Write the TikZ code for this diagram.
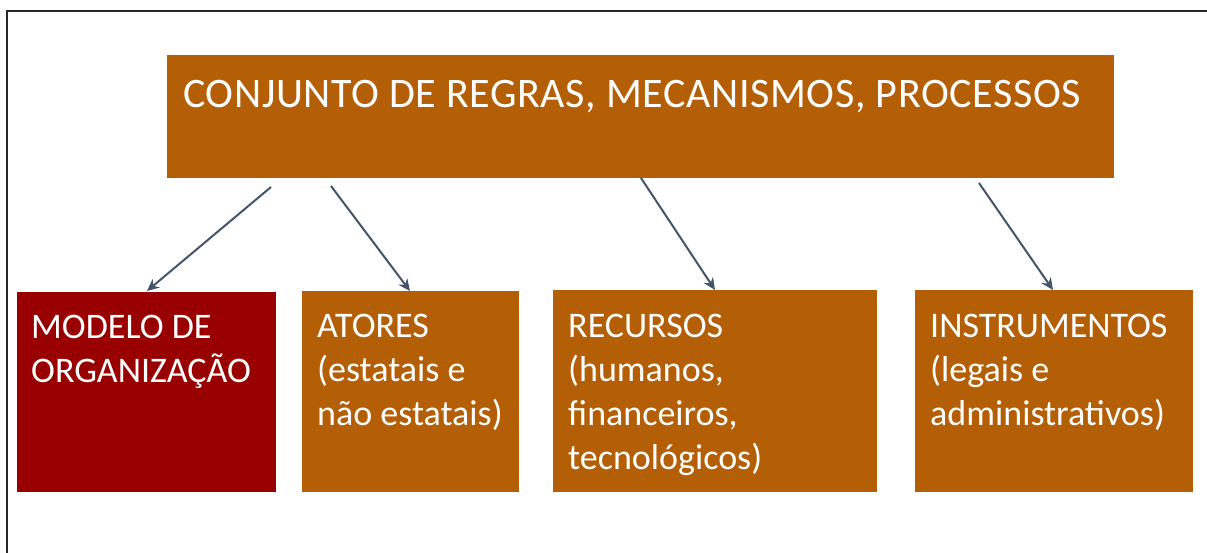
\documentclass[tikz,border=0pt]{standalone}
\usepackage{fontspec}
\setmainfont{Carlito}
\usetikzlibrary{arrows.meta}
\definecolor{boxorange}{HTML}{B45F06}
\definecolor{boxred}{HTML}{990000}
\definecolor{arrowgray}{HTML}{44546A}
\tikzset{
  box/.style={rectangle, inner sep=0pt, anchor=north west, draw=none},
  lbl/.style={inner sep=0pt, anchor=north west, text=white, align=left, font=\fontsize{36}{44}\selectfont},
  toplbl/.style={inner sep=0pt, anchor=north west, text=white, font=\fontsize{42}{50}\selectfont\addfontfeature{LetterSpace=1.5}},
  conn/.style={draw=arrowgray, line width=2pt, -{Stealth[length=12pt,width=11pt]}},
}
\begin{document}
\begin{tikzpicture}[x=1pt,y=-1pt]
\useasboundingbox (0,0) rectangle (1207,553);
% frame (left and top edges of the cropped screenshot)
\coordinate (fb) at (7,553);
\coordinate (fc) at (7,11);
\coordinate (fr) at (1207,11);
\draw[line width=2pt, black!85] (fb) -- (fc) -- (fr);
% boxes
\node[box, fill=boxorange, minimum width=947pt, minimum height=123pt] (top) at (167,55) {};
\node[box, fill=boxred, minimum width=259pt, minimum height=200pt] (mod) at (17,292) {};
\node[box, fill=boxorange, minimum width=217pt, minimum height=201pt] (ato) at (302,291) {};
\node[box, fill=boxorange, minimum width=324pt, minimum height=202pt] (rec) at (553,290) {};
\node[box, fill=boxorange, minimum width=278pt, minimum height=202pt] (ins) at (915,290) {};
% texts
\node[toplbl] (toptxt) at (183,80) {CONJUNTO DE REGRAS, MECANISMOS, PROCESSOS};
\node[lbl] (modtxt) at (31,315) {MODELO DE\\ORGANIZAÇÃO};
\node[lbl] (atotxt) at (317,314) {ATORES\\(estatais e\\não estatais)};
\node[lbl] (rectxt) at (568,314) {RECURSOS\\(humanos,\\financeiros,\\tecnológicos)};
\node[lbl] (instxt) at (930,314) {INSTRUMENTOS\\(legais e\\administrativos)};
% connector endpoints
\coordinate (s1) at (271,187);
\coordinate (e1) at (147,291);
\coordinate (s2) at (331,186);
\coordinate (e2) at (410,291);
\coordinate (s3) at (641,178);
\coordinate (e3) at (715,290);
\coordinate (s4) at (979,183);
\coordinate (e4) at (1053,290);
\draw[conn] (s1) -- (e1);
\draw[conn] (s2) -- (e2);
\draw[conn] (s3) -- (e3);
\draw[conn] (s4) -- (e4);
\end{tikzpicture}
\end{document}
